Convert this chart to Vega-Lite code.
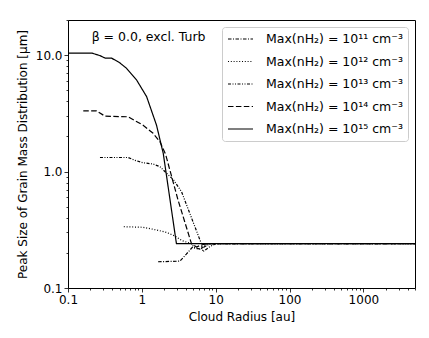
{
  "$schema": "https://vega.github.io/schema/vega-lite/v6.json",
  "width": 347,
  "height": 268,
  "autosize": "none",
  "padding": {"left": 68, "top": 20, "right": 14, "bottom": 50},
  "background": "white",
  "config": {
    "view": {"stroke": "black", "strokeWidth": 1},
    "font": "DejaVu Sans",
    "axis": {"labelFont": "DejaVu Sans", "titleFont": "DejaVu Sans", "labelFontSize": 12, "titleFontSize": 12, "titleFontWeight": "normal", "labelColor": "black", "titleColor": "black", "tickColor": "black", "grid": false, "domain": false, "labelOverlap": false, "labelFlush": false, "tickWidth": 0.8},
    "legend": {"orient": "top-right", "offset": 7, "symbolType": "stroke", "symbolSize": 625, "symbolStrokeWidth": 1.2, "symbolStrokeColor": "black", "labelFont": "DejaVu Sans", "labelFontSize": 12.5, "labelColor": "black", "labelOffset": 12, "labelLimit": 0, "padding": 5, "rowPadding": 8.5, "clipHeight": 14, "fillColor": "white", "strokeColor": "#cccccc", "cornerRadius": 3}
  },
  "datasets": {
    "curves": [
      {"s": "Max(nH₂) = 10¹⁵ cm⁻³", "x": 0.1, "y": 10.4},
      {"s": "Max(nH₂) = 10¹⁵ cm⁻³", "x": 0.21, "y": 10.4},
      {"s": "Max(nH₂) = 10¹⁵ cm⁻³", "x": 0.27, "y": 9.9},
      {"s": "Max(nH₂) = 10¹⁵ cm⁻³", "x": 0.32, "y": 9.4},
      {"s": "Max(nH₂) = 10¹⁵ cm⁻³", "x": 0.39, "y": 9.4},
      {"s": "Max(nH₂) = 10¹⁵ cm⁻³", "x": 0.5, "y": 8.6},
      {"s": "Max(nH₂) = 10¹⁵ cm⁻³", "x": 0.62, "y": 7.7},
      {"s": "Max(nH₂) = 10¹⁵ cm⁻³", "x": 0.85, "y": 6.1},
      {"s": "Max(nH₂) = 10¹⁵ cm⁻³", "x": 1.16, "y": 4.4},
      {"s": "Max(nH₂) = 10¹⁵ cm⁻³", "x": 1.58, "y": 2.5},
      {"s": "Max(nH₂) = 10¹⁵ cm⁻³", "x": 1.95, "y": 1.43},
      {"s": "Max(nH₂) = 10¹⁵ cm⁻³", "x": 2.94, "y": 0.24},
      {"s": "Max(nH₂) = 10¹⁵ cm⁻³", "x": 5000, "y": 0.24},

      {"s": "Max(nH₂) = 10¹⁴ cm⁻³", "x": 0.161, "y": 3.32},
      {"s": "Max(nH₂) = 10¹⁴ cm⁻³", "x": 0.244, "y": 3.32},
      {"s": "Max(nH₂) = 10¹⁴ cm⁻³", "x": 0.316, "y": 2.99},
      {"s": "Max(nH₂) = 10¹⁴ cm⁻³", "x": 0.65, "y": 2.95},
      {"s": "Max(nH₂) = 10¹⁴ cm⁻³", "x": 1.04, "y": 2.5},
      {"s": "Max(nH₂) = 10¹⁴ cm⁻³", "x": 1.42, "y": 2.13},
      {"s": "Max(nH₂) = 10¹⁴ cm⁻³", "x": 1.76, "y": 1.8},
      {"s": "Max(nH₂) = 10¹⁴ cm⁻³", "x": 2.1, "y": 1.4},
      {"s": "Max(nH₂) = 10¹⁴ cm⁻³", "x": 3.09, "y": 0.57},
      {"s": "Max(nH₂) = 10¹⁴ cm⁻³", "x": 4.7, "y": 0.24},
      {"s": "Max(nH₂) = 10¹⁴ cm⁻³", "x": 5.5, "y": 0.225},
      {"s": "Max(nH₂) = 10¹⁴ cm⁻³", "x": 6.5, "y": 0.235},
      {"s": "Max(nH₂) = 10¹⁴ cm⁻³", "x": 8, "y": 0.24},
      {"s": "Max(nH₂) = 10¹⁴ cm⁻³", "x": 5000, "y": 0.24},

      {"s": "Max(nH₂) = 10¹³ cm⁻³", "x": 0.271, "y": 1.32},
      {"s": "Max(nH₂) = 10¹³ cm⁻³", "x": 0.65, "y": 1.32},
      {"s": "Max(nH₂) = 10¹³ cm⁻³", "x": 0.8, "y": 1.25},
      {"s": "Max(nH₂) = 10¹³ cm⁻³", "x": 1.03, "y": 1.19},
      {"s": "Max(nH₂) = 10¹³ cm⁻³", "x": 1.42, "y": 1.16},
      {"s": "Max(nH₂) = 10¹³ cm⁻³", "x": 1.76, "y": 1.1},
      {"s": "Max(nH₂) = 10¹³ cm⁻³", "x": 2.05, "y": 1.0},
      {"s": "Max(nH₂) = 10¹³ cm⁻³", "x": 2.7, "y": 0.845},
      {"s": "Max(nH₂) = 10¹³ cm⁻³", "x": 3.45, "y": 0.67},
      {"s": "Max(nH₂) = 10¹³ cm⁻³", "x": 6.4, "y": 0.24},
      {"s": "Max(nH₂) = 10¹³ cm⁻³", "x": 6.7, "y": 0.205},
      {"s": "Max(nH₂) = 10¹³ cm⁻³", "x": 8.3, "y": 0.226},
      {"s": "Max(nH₂) = 10¹³ cm⁻³", "x": 10, "y": 0.24},
      {"s": "Max(nH₂) = 10¹³ cm⁻³", "x": 5000, "y": 0.24},

      {"s": "Max(nH₂) = 10¹² cm⁻³", "x": 0.57, "y": 0.336},
      {"s": "Max(nH₂) = 10¹² cm⁻³", "x": 1.04, "y": 0.332},
      {"s": "Max(nH₂) = 10¹² cm⁻³", "x": 1.58, "y": 0.315},
      {"s": "Max(nH₂) = 10¹² cm⁻³", "x": 2.16, "y": 0.3},
      {"s": "Max(nH₂) = 10¹² cm⁻³", "x": 2.79, "y": 0.28},
      {"s": "Max(nH₂) = 10¹² cm⁻³", "x": 3.5, "y": 0.255},
      {"s": "Max(nH₂) = 10¹² cm⁻³", "x": 4.7, "y": 0.24},
      {"s": "Max(nH₂) = 10¹² cm⁻³", "x": 5.2, "y": 0.22},
      {"s": "Max(nH₂) = 10¹² cm⁻³", "x": 6, "y": 0.215},
      {"s": "Max(nH₂) = 10¹² cm⁻³", "x": 7.5, "y": 0.235},
      {"s": "Max(nH₂) = 10¹² cm⁻³", "x": 9, "y": 0.24},
      {"s": "Max(nH₂) = 10¹² cm⁻³", "x": 5000, "y": 0.24},

      {"s": "Max(nH₂) = 10¹¹ cm⁻³", "x": 1.66, "y": 0.168},
      {"s": "Max(nH₂) = 10¹¹ cm⁻³", "x": 3.27, "y": 0.17},
      {"s": "Max(nH₂) = 10¹¹ cm⁻³", "x": 4.0, "y": 0.195},
      {"s": "Max(nH₂) = 10¹¹ cm⁻³", "x": 4.9, "y": 0.226},
      {"s": "Max(nH₂) = 10¹¹ cm⁻³", "x": 6.2, "y": 0.215},
      {"s": "Max(nH₂) = 10¹¹ cm⁻³", "x": 8.3, "y": 0.24},
      {"s": "Max(nH₂) = 10¹¹ cm⁻³", "x": 5000, "y": 0.24}
    ],
    "note": [
      {"label": "β = 0.0, excl. Turb", "x": 0.209, "y": 13.2}
    ]
  },
  "layer": [
    {
      "data": {"name": "curves"},
      "mark": {"type": "line", "color": "black", "strokeWidth": 1.2, "clip": true},
      "encoding": {
        "x": {
          "field": "x", "type": "quantitative",
          "scale": {"type": "log", "domain": [0.1, 5000], "nice": false},
          "axis": {
            "title": "Cloud Radius [au]",
            "values": [0.1, 0.2, 0.3, 0.4, 0.5, 0.6, 0.7, 0.8, 0.9, 1, 2, 3, 4, 5, 6, 7, 8, 9, 10, 20, 30, 40, 50, 60, 70, 80, 90, 100, 200, 300, 400, 500, 600, 700, 800, 900, 1000, 2000, 3000, 4000, 5000],
            "labelExpr": "abs(log(datum.value)/LN10 - round(log(datum.value)/LN10)) < 0.001 ? (datum.value < 1 ? '0.1' : format(datum.value, 'd')) : ''",
            "tickSize": {"condition": {"test": "abs(log(datum.value)/LN10 - round(log(datum.value)/LN10)) < 0.001", "value": 4}, "value": 2},
            "labelPadding": 2,
            "titlePadding": 6
          }
        },
        "y": {
          "field": "y", "type": "quantitative",
          "scale": {"type": "log", "domain": [0.1, 20], "nice": false},
          "axis": {
            "title": "Peak Size of Grain Mass Distribution [μm]",
            "values": [0.1, 0.2, 0.3, 0.4, 0.5, 0.6, 0.7, 0.8, 0.9, 1, 2, 3, 4, 5, 6, 7, 8, 9, 10, 20],
            "labelExpr": "abs(log(datum.value)/LN10 - round(log(datum.value)/LN10)) < 0.001 ? format(datum.value, '.1f') : ''",
            "tickSize": {"condition": {"test": "abs(log(datum.value)/LN10 - round(log(datum.value)/LN10)) < 0.001", "value": 4}, "value": 2},
            "labelPadding": 2,
            "titlePadding": 6
          }
        },
        "strokeDash": {
          "field": "s", "type": "nominal",
          "scale": {
            "domain": ["Max(nH₂) = 10¹¹ cm⁻³", "Max(nH₂) = 10¹² cm⁻³", "Max(nH₂) = 10¹³ cm⁻³", "Max(nH₂) = 10¹⁴ cm⁻³", "Max(nH₂) = 10¹⁵ cm⁻³"],
            "range": [[3.5, 1.5, 1, 1.5], [1, 1.8], [3, 1.5, 1, 1.5, 1, 1.5], [5.5, 2.4], [1, 0]]
          },
          "legend": {"title": null}
        }
      }
    },
    {
      "data": {"name": "note"},
      "mark": {"type": "text", "align": "left", "baseline": "alphabetic", "fontSize": 12.5, "font": "DejaVu Sans", "color": "black"},
      "encoding": {
        "x": {"field": "x", "type": "quantitative"},
        "y": {"field": "y", "type": "quantitative"},
        "text": {"field": "label"}
      }
    }
  ]
}
